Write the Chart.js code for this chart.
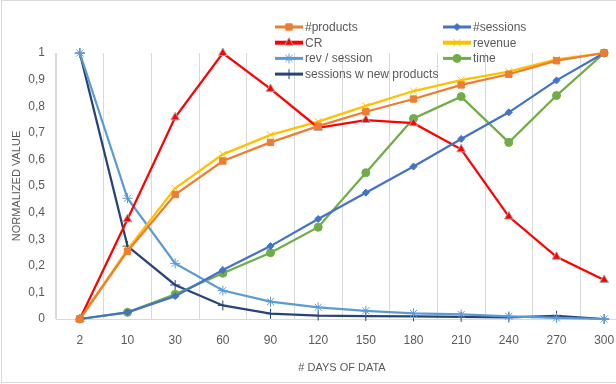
<!DOCTYPE html>
<html lang="en">
  <head>
    <meta charset="UTF-8" />
    <title>Normalized value by days of data</title>
    <script src="https://cdn.jsdelivr.net/npm/chart.js"></script>
    <style>
      body {
        margin: 0;
        overflow: hidden;
        background: #fff;
        font-family: "Liberation Sans", Arial, sans-serif;
      }
      .chart-box {
        position: absolute;
        left: 0;
        top: 0;
        width: 634px;
        height: 384px;
      }
      .frame {
        position: absolute;
        left: 1px;
        top: 0;
        width: 640px;
        height: 381px;
        border: 1px solid #d9d9d9;
        pointer-events: none;
      }
    </style>
  </head>
  <body>
    <div class="chart-box"><canvas id="daysChart"></canvas></div>
    <div class="frame"></div>

    <script>
      const days = ["2", "10", "30", "60", "90", "120", "150", "180", "210", "240", "270", "300"];
      const products = [0, 0.255, 0.468, 0.594, 0.664, 0.725, 0.779, 0.827, 0.88, 0.92, 0.971, 1.0];
      const sessions = [0, 0.025, 0.086, 0.184, 0.274, 0.376, 0.475, 0.573, 0.677, 0.777, 0.897, 1.0];
      const cr = [0, 0.375, 0.758, 1.0, 0.865, 0.719, 0.748, 0.736, 0.638, 0.385, 0.234, 0.147];
      const revenue = [0, 0.262, 0.491, 0.619, 0.692, 0.742, 0.801, 0.857, 0.898, 0.93, 0.976, 1.0];
      const revPerSession = [1.0, 0.454, 0.209, 0.107, 0.065, 0.044, 0.031, 0.021, 0.017, 0.01, 0.004, 0];
      const time = [0, 0.025, 0.093, 0.172, 0.249, 0.345, 0.55, 0.754, 0.836, 0.664, 0.84, 1.0];
      const sessionsNew = [1.0, 0.274, 0.128, 0.051, 0.02, 0.013, 0.011, 0.01, 0.008, 0.006, 0.012, 0];

      const textColor = "#595959";
      const gridColor = "#d9d9d9";

      function series(label, values, color, style, radius, extra) {
        return Object.assign(
          {
            label: label,
            data: values,
            borderColor: color,
            backgroundColor: color,
            borderWidth: 2.25,
            pointStyle: style,
            pointRadius: radius,
            pointHoverRadius: radius,
            pointBackgroundColor: color,
            pointBorderColor: color,
            pointBorderWidth: 1,
            tension: 0,
            clip: false,
            legendWidth: 3,
          },
          extra || {}
        );
      }

      // draws the two-column legend the way the original sheet has it
      const gridLegend = {
        id: "gridLegend",
        afterDraw(chart) {
          const ctx = chart.ctx;
          ctx.save();
          chart.data.datasets.forEach((ds, i) => {
            const x = i % 2 === 0 ? 275 : 443;
            const y = 27 + Math.floor(i / 2) * 15.7;
            ctx.strokeStyle = ds.borderColor;
            ctx.lineWidth = ds.legendWidth;
            ctx.beginPath();
            ctx.moveTo(x, y);
            ctx.lineTo(x + 28, y);
            ctx.stroke();
            ctx.fillStyle = ds.pointBackgroundColor;
            ctx.strokeStyle = ds.pointBorderColor;
            ctx.lineWidth = ds.pointBorderWidth;
            Chart.helpers.drawPoint(
              ctx,
              { pointStyle: ds.pointStyle, radius: ds.pointRadius, rotation: 0, borderWidth: ds.pointBorderWidth },
              x + 14,
              y
            );
            ctx.fillStyle = textColor;
            ctx.font = '12px "Liberation Sans", Arial, sans-serif';
            ctx.textBaseline = "middle";
            ctx.fillText(ds.label, x + 30, y + 0.5);
          });
          ctx.restore();
        },
      };

      new Chart(document.getElementById("daysChart"), {
        type: "line",
        data: {
          labels: days,
          datasets: [
            series("#products", products, "#ed7d31", "rect", 4.5),
            series("#sessions", sessions, "#4472c4", "rectRot", 3.5),
            series("CR", cr, "#ff0000", "triangle", 5, { pointBorderColor: "#a5a5a5", legendWidth: 4 }),
            series("revenue", revenue, "#ffc000", "crossRot", 5, { legendWidth: 4 }),
            series("rev / session", revPerSession, "#5b9bd5", "star", 5),
            series("time", time, "#70ad47", "circle", 4),
            series("sessions w new products", sessionsNew, "#264478", "cross", 5),
          ],
        },
        options: {
          responsive: true,
          maintainAspectRatio: false,
          animation: false,
          layout: { padding: { top: 53, right: 2, left: 0, bottom: 0 } },
          plugins: {
            legend: { display: false },
            tooltip: { enabled: false },
          },
          scales: {
            x: {
              offset: true,
              grid: { offset: true, color: gridColor, drawTicks: false },
              border: { color: gridColor },
              ticks: {
                color: textColor,
                padding: 14,
                font: { family: "Liberation Sans", size: 12 },
              },
              title: {
                display: true,
                text: "# DAYS OF DATA",
                color: textColor,
                font: { family: "Liberation Sans", size: 11 },
                padding: { top: 0, bottom: 9 },
              },
              afterFit: (s) => {
                s.height = 65;
              },
            },
            y: {
              min: 0,
              max: 1,
              grid: { display: false, drawTicks: false },
              border: { display: true, color: gridColor },
              ticks: {
                stepSize: 0.1,
                color: textColor,
                padding: 11,
                font: { family: "Liberation Sans", size: 12 },
                callback: (v) => (v === 0 ? "0" : v === 1 ? "1" : v.toFixed(1).replace(".", ",")),
              },
              title: {
                display: true,
                text: "NORMALIZED VALUE",
                color: textColor,
                font: { family: "Liberation Sans", size: 11 },
                padding: { top: 10, bottom: 0 },
              },
              afterFit: (s) => {
                s.width = 56;
              },
            },
          },
        },
        plugins: [gridLegend],
      });
    </script>
  </body>
</html>
